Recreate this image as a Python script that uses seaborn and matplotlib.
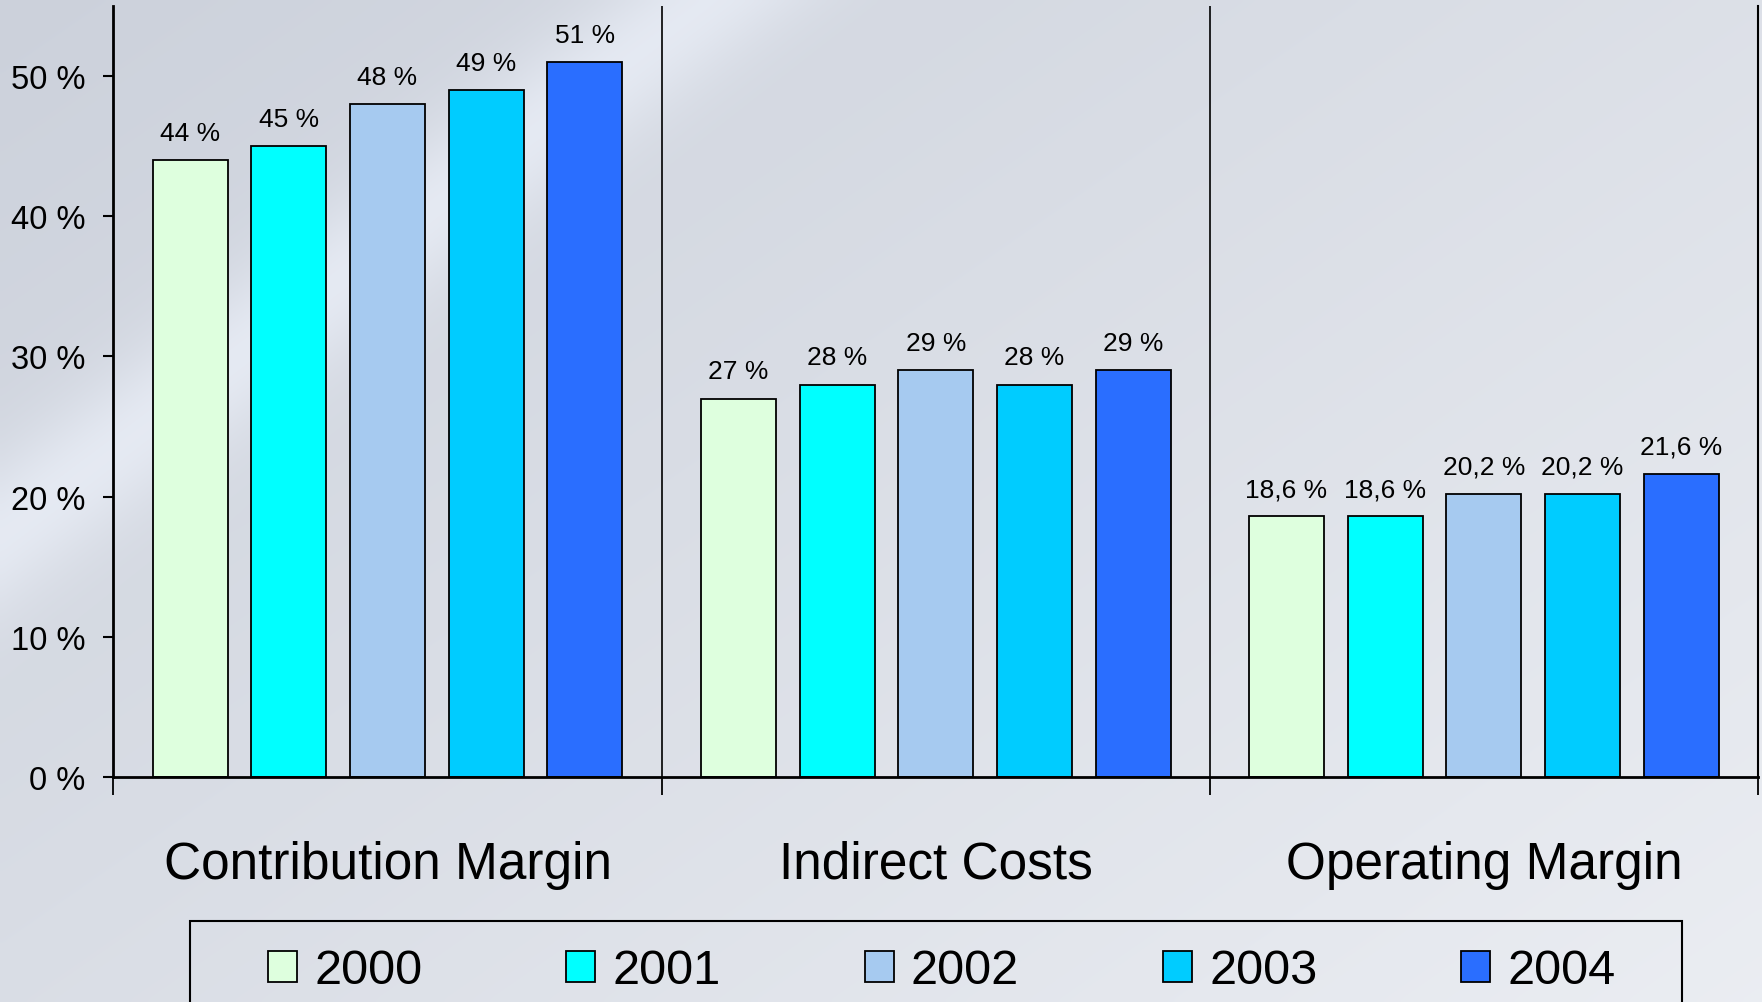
import numpy as np
import pandas as pd
import matplotlib
matplotlib.use('Agg')
import matplotlib.pyplot as plt
from matplotlib.patches import Rectangle
import seaborn as sns

# Données
categories = ['Contribution Margin', 'Indirect Costs', 'Operating Margin']
years = ['2000', '2001', '2002', '2003', '2004']
contribution_margin = [44, 45, 48, 49, 51]
indirect_costs = [27, 28, 29, 28, 29]
operating_margin = [18.6, 18.6, 20.2, 20.2, 21.6]
y_ticks = [0, 10, 20, 30, 40, 50]

colors = ['#DEFFDE', '#00FFFF', '#A6CAF0', '#00CCFF', '#2A6EFF']

rows = []
for cat, vals in zip(categories, [contribution_margin, indirect_costs, operating_margin]):
    for yr, v in zip(years, vals):
        rows.append({'category': cat, 'year': yr, 'value': v})
df = pd.DataFrame(rows)

sns.set_style('white')
plt.rcParams['font.family'] = ['Liberation Sans', 'DejaVu Sans']
plt.rcParams['text.color'] = 'black'
plt.rcParams['xtick.color'] = 'black'
plt.rcParams['ytick.color'] = 'black'

fig = plt.figure(figsize=(17.62, 10.03), dpi=100)

# fond en dégradé (gris-bleu en haut à gauche, plus clair ailleurs)
bg = fig.add_axes([0, 0, 1, 1], zorder=-10)
h, w = 200, 350
yy, xx = np.mgrid[0:1:h * 1j, 0:1:w * 1j]
t = np.clip(0.55 * xx + 0.45 * yy, 0, 1)
streak = np.exp(-((xx + 0.75 * yy - 0.40) / 0.06) ** 2)
dark = np.array([0.80, 0.82, 0.86])
light = np.array([0.92, 0.93, 0.95])
img = dark[None, None, :] * (1 - t[..., None]) + light[None, None, :] * t[..., None]
img = np.clip(img + 0.07 * streak[..., None], 0, 1)
bg.imshow(img, aspect='auto', extent=[0, 1, 0, 1], interpolation='bicubic')
bg.set_axis_off()

ax = fig.add_axes([0.0644, 0.2243, 0.9333, 0.7687])
ax.set_facecolor('none')

sns.barplot(data=df, x='category', y='value', hue='year', palette=colors,
            edgecolor='black', linewidth=1.3, width=0.9, gap=0.24,
            saturation=1, errorbar=None, legend=True, ax=ax)

for cont in ax.containers:
    labels = []
    for v in cont.datavalues:
        if float(v).is_integer():
            labels.append(f'{v:.0f} %')
        else:
            labels.append(f'{v:.1f} %'.replace('.', ','))
    ax.bar_label(cont, labels=labels, padding=11, fontsize=19, color='black')

ax.set_ylim(0, 55)
ax.set_xlim(-0.5, 2.5)
ax.set_yticks(y_ticks)
ax.set_yticklabels([f'{v} %' for v in y_ticks], fontsize=23.5)
ax.tick_params(axis='y', direction='out', length=7, width=1.5, pad=13, left=True)

# séparateurs de catégories + libellés centrés
ax.set_xticks([-0.5, 0.5, 1.5, 2.5])
ax.set_xticklabels([])
ax.tick_params(axis='x', which='major', direction='out', length=13, width=1.3, bottom=True)
ax.set_xticks([0, 1, 2], minor=True)
ax.set_xticklabels(categories, minor=True, fontsize=37)
ax.tick_params(axis='x', which='minor', length=0, pad=45)
for xv in [0.5, 1.5]:
    ax.axvline(xv, color='black', lw=1.2, zorder=0)

ax.set_xlabel('')
ax.set_ylabel('')
ax.spines['top'].set_visible(False)
ax.spines['left'].set_linewidth(2)
ax.spines['bottom'].set_linewidth(2)
ax.spines['right'].set_linewidth(1.5)
for s in ax.spines.values():
    s.set_color('black')

handles, labs = ax.get_legend_handles_labels()
ax.get_legend().remove()
fig.legend(handles, labs, loc='center', bbox_to_anchor=(0.5345, 0.031),
           ncol=5, frameon=False, fontsize=35, borderpad=0,
           handlelength=0.6, handleheight=0.6, handletextpad=0.35,
           columnspacing=2.96)
fig.patches.append(Rectangle((190 / 1762, -0.05), (1682 - 190) / 1762, 0.05 + 1 - 922 / 1003,
                             transform=fig.transFigure, fill=False,
                             edgecolor='black', linewidth=1.5))

fig.savefig('out.png', dpi=100)
